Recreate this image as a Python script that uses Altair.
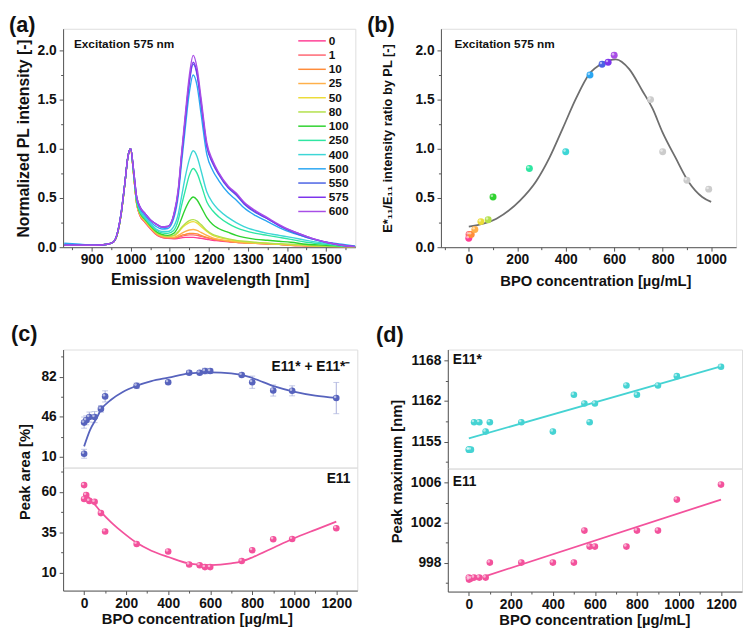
import altair as alt
import pandas as pd

FONT = "Liberation Sans"
FR = "#555555"
TXT = "#111111"

# ---------------- (a) PL spectra ----------------
CONC_LABELS = ["0", "1", "10", "25", "50", "80", "100", "250", "400", "500", "550", "575", "600"]
CONC_COLORS = ["#ff3f95", "#ff6672", "#ff8c3a", "#ffb04a", "#ecdc3a", "#b2e04a", "#2fd22f",
               "#2fe6a2", "#3dd6d6", "#2aa6f2", "#4a62e4", "#7d34ec", "#a84ee6"]

WL = [830, 870, 910, 940, 955, 965, 975, 985, 993, 1000, 1007, 1015, 1025, 1035, 1050, 1065, 1080, 1095,
      1110, 1122, 1130, 1140, 1150, 1160, 1170, 1180, 1195, 1210, 1225, 1250, 1270, 1290, 1320, 1350, 1380,
      1410, 1450, 1500, 1540, 1575]

PL_0 = [0.02, 0.02, 0.02, 0.03, 0.05, 0.12, 0.32, 0.64, 0.92, 1.00, 0.76, 0.45, 0.31, 0.26, 0.19, 0.13, 0.10, 0.09,
        0.085, 0.09, 0.095, 0.10, 0.10, 0.10, 0.095, 0.09, 0.08, 0.07, 0.065, 0.055, 0.05, 0.045, 0.04, 0.035, 0.03,
        0.02, 0.015, 0.01, 0.005, 0.0]
PL_1 = [0.02, 0.02, 0.02, 0.03, 0.05, 0.12, 0.32, 0.64, 0.92, 1.00, 0.76, 0.45, 0.31, 0.26, 0.19, 0.13, 0.10, 0.09,
        0.09, 0.10, 0.11, 0.12, 0.125, 0.125, 0.12, 0.11, 0.095, 0.08, 0.07, 0.06, 0.05, 0.045, 0.04, 0.035, 0.03,
        0.02, 0.015, 0.01, 0.005, 0.0]
PL_10 = [0.02, 0.02, 0.02, 0.03, 0.05, 0.12, 0.32, 0.64, 0.92, 1.00, 0.76, 0.45, 0.32, 0.27, 0.20, 0.14, 0.11, 0.10,
         0.095, 0.105, 0.12, 0.13, 0.14, 0.14, 0.135, 0.12, 0.10, 0.085, 0.075, 0.06, 0.05, 0.045, 0.04, 0.035, 0.03,
         0.02, 0.015, 0.01, 0.005, 0.0]
PL_25 = [0.02, 0.02, 0.02, 0.03, 0.05, 0.12, 0.32, 0.64, 0.92, 1.00, 0.76, 0.45, 0.32, 0.27, 0.20, 0.14, 0.11, 0.10,
         0.10, 0.12, 0.14, 0.16, 0.175, 0.18, 0.17, 0.15, 0.12, 0.095, 0.08, 0.065, 0.055, 0.045, 0.04, 0.035, 0.03,
         0.025, 0.015, 0.01, 0.005, 0.0]
PL_50 = [0.02, 0.02, 0.02, 0.03, 0.05, 0.12, 0.32, 0.64, 0.92, 1.00, 0.77, 0.46, 0.33, 0.28, 0.21, 0.15, 0.12, 0.11,
         0.115, 0.15, 0.19, 0.225, 0.25, 0.26, 0.245, 0.21, 0.16, 0.12, 0.10, 0.08, 0.065, 0.055, 0.045, 0.04, 0.03,
         0.025, 0.02, 0.01, 0.005, 0.0]
PL_80 = [0.02, 0.02, 0.02, 0.03, 0.05, 0.12, 0.32, 0.64, 0.92, 1.00, 0.77, 0.46, 0.33, 0.28, 0.21, 0.15, 0.12, 0.11,
         0.12, 0.16, 0.20, 0.24, 0.27, 0.28, 0.265, 0.23, 0.17, 0.13, 0.11, 0.085, 0.07, 0.06, 0.05, 0.04, 0.035,
         0.03, 0.02, 0.01, 0.005, 0.0]
PL_100 = [0.02, 0.02, 0.02, 0.03, 0.05, 0.12, 0.32, 0.64, 0.92, 1.00, 0.77, 0.47, 0.34, 0.29, 0.22, 0.16, 0.13, 0.12,
          0.14, 0.21, 0.29, 0.39, 0.47, 0.51, 0.48, 0.41, 0.30, 0.23, 0.19, 0.15, 0.12, 0.10, 0.08, 0.07, 0.06,
          0.05, 0.03, 0.02, 0.01, 0.005]
PL_250 = [0.02, 0.02, 0.02, 0.03, 0.05, 0.13, 0.33, 0.65, 0.92, 1.00, 0.78, 0.48, 0.35, 0.30, 0.23, 0.175, 0.145, 0.14,
          0.17, 0.28, 0.42, 0.58, 0.73, 0.80, 0.75, 0.64, 0.46, 0.37, 0.31, 0.24, 0.20, 0.17, 0.14, 0.12, 0.10,
          0.08, 0.05, 0.03, 0.01, 0.005]
PL_400 = [0.03, 0.02, 0.02, 0.03, 0.05, 0.13, 0.33, 0.65, 0.92, 1.00, 0.78, 0.49, 0.36, 0.31, 0.24, 0.185, 0.16, 0.16,
          0.21, 0.34, 0.51, 0.72, 0.89, 0.98, 0.92, 0.78, 0.56, 0.45, 0.38, 0.30, 0.25, 0.21, 0.17, 0.14, 0.12,
          0.10, 0.07, 0.04, 0.02, 0.01]
PL_500 = [0.04, 0.03, 0.02, 0.03, 0.05, 0.13, 0.33, 0.65, 0.92, 1.00, 0.79, 0.50, 0.38, 0.33, 0.26, 0.21, 0.185, 0.19,
          0.29, 0.53, 0.85, 1.22, 1.57, 1.75, 1.64, 1.36, 0.94, 0.78, 0.68, 0.55, 0.48, 0.40, 0.32, 0.26, 0.20,
          0.15, 0.10, 0.05, 0.03, 0.01]
PL_550 = [0.02, 0.02, 0.02, 0.03, 0.05, 0.13, 0.33, 0.65, 0.92, 1.00, 0.80, 0.52, 0.40, 0.35, 0.28, 0.235, 0.205, 0.21,
          0.32, 0.58, 0.91, 1.31, 1.67, 1.86, 1.75, 1.46, 1.02, 0.85, 0.74, 0.60, 0.53, 0.44, 0.35, 0.29, 0.22,
          0.16, 0.10, 0.05, 0.02, 0.005]
PL_575 = [0.02, 0.02, 0.02, 0.03, 0.05, 0.13, 0.33, 0.65, 0.92, 1.00, 0.80, 0.52, 0.40, 0.35, 0.28, 0.235, 0.205, 0.21,
          0.32, 0.58, 0.92, 1.32, 1.69, 1.88, 1.77, 1.48, 1.03, 0.86, 0.75, 0.61, 0.54, 0.45, 0.36, 0.29, 0.22,
          0.17, 0.11, 0.05, 0.02, 0.005]
PL_600 = [0.02, 0.02, 0.02, 0.03, 0.05, 0.13, 0.33, 0.65, 0.92, 1.00, 0.80, 0.52, 0.40, 0.35, 0.28, 0.235, 0.205, 0.21,
          0.33, 0.60, 0.95, 1.36, 1.74, 1.95, 1.82, 1.52, 1.06, 0.88, 0.76, 0.62, 0.55, 0.46, 0.37, 0.30, 0.23,
          0.17, 0.11, 0.05, 0.02, 0.005]
PL_SERIES = [PL_0, PL_1, PL_10, PL_25, PL_50, PL_80, PL_100, PL_250, PL_400, PL_500, PL_550, PL_575, PL_600]

A_XTICKS = [900, 1000, 1100, 1200, 1300, 1400, 1500]
A_XMINOR = [850, 950, 1050, 1150, 1250, 1350, 1450, 1550]
A_YTICKS = [0.0, 0.5, 1.0, 1.5, 2.0]
A_YMINOR = [0.25, 0.75, 1.25, 1.75]

# ---------------- (b) intensity ratio ----------------
B_X = [0, 1, 10, 25, 50, 80, 100, 250, 400, 500, 550, 575, 600, 750, 800, 900, 990]
B_Y = [0.09, 0.13, 0.13, 0.18, 0.26, 0.28, 0.51, 0.80, 0.97, 1.75, 1.86, 1.88, 1.95, 1.50, 0.97, 0.68, 0.59]
B_COLORS = ["#ff3f95", "#ff6672", "#ff8c3a", "#ffb04a", "#ecdc3a", "#b2e04a", "#2fd22f", "#2fe6a2", "#3dd6d6",
            "#2aa6f2", "#4a62e4", "#7d34ec", "#a84ee6", "#cccccc", "#cccccc", "#cccccc", "#cccccc"]
B_FIT_X = [0, 114, 210, 278, 333, 388, 442, 497, 552, 607, 662, 716, 758, 799, 853, 908, 963, 1000]
B_FIT_Y = [0.21, 0.29, 0.47, 0.67, 0.91, 1.21, 1.51, 1.76, 1.87, 1.91, 1.81, 1.59, 1.41, 1.17, 0.91, 0.66, 0.51, 0.46]
B_XTICKS = [0, 200, 400, 600, 800, 1000]
B_XMINOR = [-100, 100, 300, 500, 700, 900]

# ---------------- (c) peak area ----------------
C_X = [0, 0, 10, 25, 50, 80, 100, 250, 400, 500, 550, 575, 600, 750, 800, 900, 990, 1200]
C_TOP_Y = [40.8, 12.9, 42.9, 45.8, 45.8, 53.1, 64.3, 73.8, 77.0, 85.5, 85.5, 87.0, 87.0, 83.5, 77.0, 69.6, 69.3, 62.8]
C_TOP_ERR = [5.0, 4.0, 4.0, 4.5, 5.0, 3.0, 5.0, 2.5, 1.5, 1.5, 1.5, 2.5, 2.0, 1.5, 5.5, 5.0, 4.5, 14.0]
C_BOT_Y = [64.3, 55.7, 58.2, 54.5, 53.9, 46.9, 35.5, 27.7, 23.0, 14.9, 14.5, 13.3, 13.3, 17.1, 23.8, 30.6, 30.8, 37.5]
C_TOP_FIT_X = [0, 28, 59, 81, 130, 184, 250, 320, 401, 502, 603, 700, 751, 805, 906, 992, 1100, 1200]
C_TOP_FIT_Y = [19.5, 34.1, 44.7, 52.5, 61.5, 68.2, 73.8, 78.0, 81.1, 84.9, 85.8, 85.0, 83.5, 80.5, 73.2, 68.8, 65.0, 62.9]
C_BOT_FIT_X = [0, 40, 81, 130, 184, 250, 320, 401, 502, 603, 700, 751, 805, 906, 992, 1100, 1200]
C_BOT_FIT_Y = [59.8, 54.0, 47.5, 41.0, 34.9, 28.4, 23.5, 19.6, 15.5, 14.5, 15.6, 16.9, 19.6, 25.7, 30.8, 36.5, 41.6]
C_XTICKS = [0, 200, 400, 600, 800, 1000, 1200]
C_XMINOR = [100, 300, 500, 700, 900, 1100]
C_TOP_YTICKS = [10, 46, 82]
C_TOP_YMINOR = [28, 64, 100]
C_BOT_YTICKS = [10, 35, 60]
C_BOT_YMINOR = [22.5, 47.5, 72.5]

# ---------------- (d) peak maximum ----------------
D_X = [0, 1, 10, 25, 50, 80, 100, 250, 400, 500, 550, 575, 600, 750, 800, 900, 990, 1200]
D_TOP_Y = [1153.7, 1153.7, 1153.7, 1158.1, 1158.1, 1156.6, 1158.1, 1158.1, 1156.6, 1162.5, 1161.1, 1158.1, 1161.1,
           1164.0, 1162.5, 1164.0, 1165.5, 1167.0]
D_BOT_Y = [996.5, 996.3, 996.4, 996.5, 996.5, 996.5, 998.0, 998.0, 998.0, 998.0, 1001.2, 999.6, 999.6, 999.6,
           1001.2, 1001.2, 1004.3, 1005.8]
D_TOP_FIT_X = [0, 1200]
D_TOP_FIT_Y = [1155.5, 1167.05]
D_BOT_FIT_X = [80, 1200]
D_BOT_FIT_Y = [996.65, 1004.3]
D_TOP_YTICKS = [1155, 1161.5, 1168]
D_TOP_YMINOR = [1151.75, 1158.25, 1164.75]
D_BOT_YTICKS = [998, 1002, 1006]
D_BOT_YMINOR = [996, 1000, 1004]

BLUE = "#5763bd"
ERRC = "#aab0dc"
PINK = "#f3529c"
CYAN = "#45d3d3"
GREY_FIT = "#6e6e6e"

LBL_SIZE = 14


def major_axis(orient, values, fmt, title=None, tx=0, ty=0, tsize=15):
    d = dict(orient=orient, values=values, format=fmt, grid=False, domain=True, domainColor=FR,
             domainWidth=1, ticks=True, tickColor=FR, tickWidth=1, tickSize=4, labels=True,
             labelFont=FONT, labelFontSize=LBL_SIZE, labelFontWeight="bold", labelColor=TXT,
             labelFlush=False, labelOverlap=False, labelPadding=(2 if orient == "bottom" else 3))
    if title:
        d.update(title=title, titleFont=FONT, titleFontSize=tsize, titleFontWeight="bold",
                 titleColor=TXT, titleX=tx, titleY=ty, titleAlign="center")
        if orient == "left":
            d.update(titleAngle=270, titleBaseline="middle")
        else:
            d.update(titleAngle=0, titleBaseline="top")
    else:
        d["title"] = None
    return alt.Axis(**d)


def minor_axis(orient, values):
    return alt.Axis(orient=orient, values=values, grid=False, domain=False, labels=False, ticks=True,
                    tickColor=FR, tickWidth=1, tickSize=2.5, title=None)


def text_layer(txt, x, y, size, align="left", baseline="middle"):
    return alt.Chart(pd.DataFrame({"t": [txt]})).mark_text(
        font=FONT, fontSize=size, fontWeight="bold", align=align, baseline=baseline, color=TXT
    ).encode(text="t:N", x=alt.value(x), y=alt.value(y))


def balls(df, xs, ys, color=None, field=None, size=45):
    """Shaded-sphere look: a filled disc plus a small light highlight."""
    enc = dict(x=alt.X("x:Q", scale=xs, axis=None), y=alt.Y("y:Q", scale=ys, axis=None))
    if field:
        base = alt.Chart(df).mark_circle(size=size, opacity=1).encode(
            color=alt.Color(field, scale=None), **enc)
    else:
        base = alt.Chart(df).mark_circle(size=size, opacity=1, color=color).encode(**enc)
    hi = alt.Chart(df).mark_circle(size=7, opacity=0.55, color="white", xOffset=-1.2, yOffset=-1.2).encode(**enc)
    return [base, hi]


# ===== panel (a) =====
W_A, H_A = 297, 222
rows = []
for lab, ser in zip(CONC_LABELS, PL_SERIES):
    for w, v in zip(WL, ser):
        rows.append({"wl": w, "I": v, "conc": lab})
df_a = pd.DataFrame(rows)
color_scale = alt.Scale(domain=CONC_LABELS, range=CONC_COLORS)
xs_a = alt.Scale(domain=[827, 1575], nice=False, zero=False)
ys_a = alt.Scale(domain=[0, 2.22], nice=False, zero=False)

a_minor = alt.Chart(df_a).mark_point(opacity=0).encode(
    x=alt.X("wl:Q", scale=xs_a, axis=minor_axis("bottom", A_XMINOR)),
    y=alt.Y("I:Q", scale=ys_a, axis=minor_axis("left", A_YMINOR)),
)
a_lines = alt.Chart(df_a).mark_line(strokeWidth=1.4, interpolate="monotone", clip=True).encode(
    x=alt.X("wl:Q", scale=xs_a,
            axis=major_axis("bottom", A_XTICKS, "d", "Emission wavelength [nm]", 149, 25, 16)),
    y=alt.Y("I:Q", scale=ys_a,
            axis=major_axis("left", A_YTICKS, ".1f", "Normalized PL intensity [-]", -40, H_A / 2, 16)),
    color=alt.Color("conc:N", scale=color_scale, legend=None),
)
df_leg = pd.DataFrame({"conc": CONC_LABELS})
leg_y = alt.Y("conc:N", sort=CONC_LABELS, scale=alt.Scale(type="point", range=[12.3, 185.7], padding=0),
              axis=None)
leg_rule = alt.Chart(df_leg).mark_rule(strokeWidth=1.5).encode(
    x=alt.value(239), x2=alt.value(267), y=leg_y,
    color=alt.Color("conc:N", scale=color_scale, legend=None),
)
leg_text = alt.Chart(df_leg).mark_text(font=FONT, fontSize=12, fontWeight="bold", align="left",
                                       baseline="middle", color=TXT).encode(
    x=alt.value(270), y=leg_y, text="conc:N")

panel_a = alt.layer(
    a_minor, a_lines, leg_rule, leg_text,
    text_layer("Excitation 575 nm", 11, 15.5, 12),
    text_layer("(a)", -55, -14, 22, baseline="top"),
).properties(width=W_A, height=H_A).resolve_scale(y="independent").resolve_axis(x="independent", y="independent")

# ===== panel (b) =====
W_B, H_B = 300, 222
df_b = pd.DataFrame({"x": B_X, "y": B_Y, "c": B_COLORS})
df_bfit = pd.DataFrame({"x": B_FIT_X, "y": B_FIT_Y})
xs_b = alt.Scale(domain=[-115, 1103], nice=False, zero=False)
ys_b = alt.Scale(domain=[0, 2.22], nice=False, zero=False)

b_minor = alt.Chart(df_b).mark_point(opacity=0).encode(
    x=alt.X("x:Q", scale=xs_b, axis=minor_axis("bottom", B_XMINOR)),
    y=alt.Y("y:Q", scale=ys_b, axis=minor_axis("left", A_YMINOR)),
)
b_fit = alt.Chart(df_bfit).mark_line(color=GREY_FIT, strokeWidth=1.8, interpolate="monotone").encode(
    x=alt.X("x:Q", scale=xs_b,
            axis=major_axis("bottom", B_XTICKS, "d", "BPO concentration [µg/mL]", 157, 27)),
    y=alt.Y("y:Q", scale=ys_b,
            axis=major_axis("left", A_YTICKS, ".1f", "E*₁₁/E₁₁ intensity ratio by PL [-]", -54, 111, 13)),
)
panel_b = alt.layer(
    b_minor, b_fit, *balls(df_b, xs_b, ys_b, field="c:N", size=50),
    text_layer("Excitation 575 nm", 13.7, 15.5, 12),
    text_layer("(b)", -75, -14, 22, baseline="top"),
).properties(width=W_B, height=H_B).resolve_axis(x="independent", y="independent")

# ===== panel (c) =====
W_C, H_CT, H_CB = 299, 120, 125
xs_c = alt.Scale(domain=[-100, 1300], nice=False, zero=False)
ys_ct = alt.Scale(domain=[0.5, 106.3], nice=False, zero=False)
ys_cb = alt.Scale(domain=[-1.3, 75.2], nice=False, zero=False)
df_ct = pd.DataFrame({"x": C_X, "y": C_TOP_Y, "e": C_TOP_ERR})
df_cb = pd.DataFrame({"x": C_X, "y": C_BOT_Y})
df_ctf = pd.DataFrame({"x": C_TOP_FIT_X, "y": C_TOP_FIT_Y})
df_cbf = pd.DataFrame({"x": C_BOT_FIT_X, "y": C_BOT_FIT_Y})

err_base = alt.Chart(df_ct).transform_calculate(lo="datum.y - datum.e", hi="datum.y + datum.e")
ct_err = err_base.mark_rule(color=ERRC, strokeWidth=1).encode(
    x=alt.X("x:Q", scale=xs_c, axis=None),
    y=alt.Y("lo:Q", scale=ys_ct, axis=None), y2="hi:Q")
ct_cap1 = err_base.mark_tick(color=ERRC, orient="horizontal", size=6, thickness=1).encode(
    x=alt.X("x:Q", scale=xs_c, axis=None), y=alt.Y("lo:Q", scale=ys_ct, axis=None))
ct_cap2 = err_base.mark_tick(color=ERRC, orient="horizontal", size=6, thickness=1).encode(
    x=alt.X("x:Q", scale=xs_c, axis=None), y=alt.Y("hi:Q", scale=ys_ct, axis=None))
ct_minor = alt.Chart(df_ct).mark_point(opacity=0).encode(
    x=alt.X("x:Q", scale=xs_c, axis=None),
    y=alt.Y("y:Q", scale=ys_ct, axis=minor_axis("left", C_TOP_YMINOR)))
ct_fit = alt.Chart(df_ctf).mark_line(color=BLUE, strokeWidth=1.8, interpolate="monotone").encode(
    x=alt.X("x:Q", scale=xs_c, axis=None),
    y=alt.Y("y:Q", scale=ys_ct, axis=major_axis("left", C_TOP_YTICKS, "d", "Peak area [%]", -39, 124)))
c_top = alt.layer(
    ct_minor, ct_err, ct_cap1, ct_cap2, ct_fit, *balls(df_ct, xs_c, ys_ct, color=BLUE),
    text_layer("E11* + E11*⁻", 292, 17.5, 14, align="right"),
    text_layer("(c)", -53, -26, 22, baseline="top"),
).properties(width=W_C, height=H_CT).resolve_axis(x="independent", y="independent")

cb_minor = alt.Chart(df_cb).mark_point(opacity=0).encode(
    x=alt.X("x:Q", scale=xs_c, axis=minor_axis("bottom", C_XMINOR)),
    y=alt.Y("y:Q", scale=ys_cb, axis=minor_axis("left", C_BOT_YMINOR)))
cb_fit = alt.Chart(df_cbf).mark_line(color=PINK, strokeWidth=1.8, interpolate="monotone").encode(
    x=alt.X("x:Q", scale=xs_c,
            axis=major_axis("bottom", C_XTICKS, "d", "BPO concentration [µg/mL]", 136, 21)),
    y=alt.Y("y:Q", scale=ys_cb, axis=major_axis("left", C_BOT_YTICKS, "d")))
c_bot = alt.layer(
    cb_minor, cb_fit, *balls(df_cb, xs_c, ys_cb, color=PINK),
    text_layer("E11", 292, 11.5, 14, align="right"),
).properties(width=W_C, height=H_CB).resolve_axis(x="independent", y="independent")

# ===== panel (d) =====
W_D, H_DT, H_DB = 299, 121, 125
xs_d = alt.Scale(domain=[-100, 1300], nice=False, zero=False)
ys_dt = alt.Scale(domain=[1150.66, 1169.77], nice=False, zero=False)
ys_db = alt.Scale(domain=[995.1, 1007.4], nice=False, zero=False)
df_dt = pd.DataFrame({"x": D_X, "y": D_TOP_Y})
df_db = pd.DataFrame({"x": D_X, "y": D_BOT_Y})
df_dtf = pd.DataFrame({"x": D_TOP_FIT_X, "y": D_TOP_FIT_Y})
df_dbf = pd.DataFrame({"x": D_BOT_FIT_X, "y": D_BOT_FIT_Y})

dt_minor = alt.Chart(df_dt).mark_point(opacity=0).encode(
    x=alt.X("x:Q", scale=xs_d, axis=None),
    y=alt.Y("y:Q", scale=ys_dt, axis=minor_axis("left", D_TOP_YMINOR)))
dt_fit = alt.Chart(df_dtf).mark_line(color=CYAN, strokeWidth=1.8).encode(
    x=alt.X("x:Q", scale=xs_d, axis=None),
    y=alt.Y("y:Q", scale=ys_dt,
            axis=major_axis("left", D_TOP_YTICKS, "d", "Peak maximum [nm]", -52, 123.5)))
d_top = alt.layer(
    dt_minor, dt_fit, *balls(df_dt, xs_d, ys_dt, color=CYAN),
    text_layer("E11*", 5, 11, 14),
    text_layer("(d)", -73, -25, 22, baseline="top"),
).properties(width=W_D, height=H_DT).resolve_axis(x="independent", y="independent")

db_minor = alt.Chart(df_db).mark_point(opacity=0).encode(
    x=alt.X("x:Q", scale=xs_d, axis=minor_axis("bottom", C_XMINOR)),
    y=alt.Y("y:Q", scale=ys_db, axis=minor_axis("left", D_BOT_YMINOR)))
db_fit = alt.Chart(df_dbf).mark_line(color=PINK, strokeWidth=1.8).encode(
    x=alt.X("x:Q", scale=xs_d,
            axis=major_axis("bottom", C_XTICKS, "d", "BPO concentration [µg/mL]", 149, 21)),
    y=alt.Y("y:Q", scale=ys_db, axis=major_axis("left", D_BOT_YTICKS, "d")))
d_bot = alt.layer(
    db_minor, db_fit, *balls(df_db, xs_d, ys_db, color=PINK),
    text_layer("E11", 5, 13.5, 14),
).properties(width=W_D, height=H_DB).resolve_axis(x="independent", y="independent")

# ===== layout =====
row1 = alt.hconcat(panel_a, panel_b, spacing=87, bounds="flush")
c_col = alt.vconcat(c_top, c_bot, spacing=0, bounds="flush")
d_col = alt.vconcat(d_top, d_bot, spacing=0, bounds="flush")
row2 = alt.hconcat(c_col, d_col, spacing=17)

chart = alt.vconcat(row1, row2, spacing=33).properties(
    padding={"left": 0, "top": 0, "right": 0, "bottom": 0}
).configure_view(stroke=FR, strokeWidth=1).configure(font=FONT)

chart.save("out.html", embed_options={"renderer": "svg", "actions": False})
